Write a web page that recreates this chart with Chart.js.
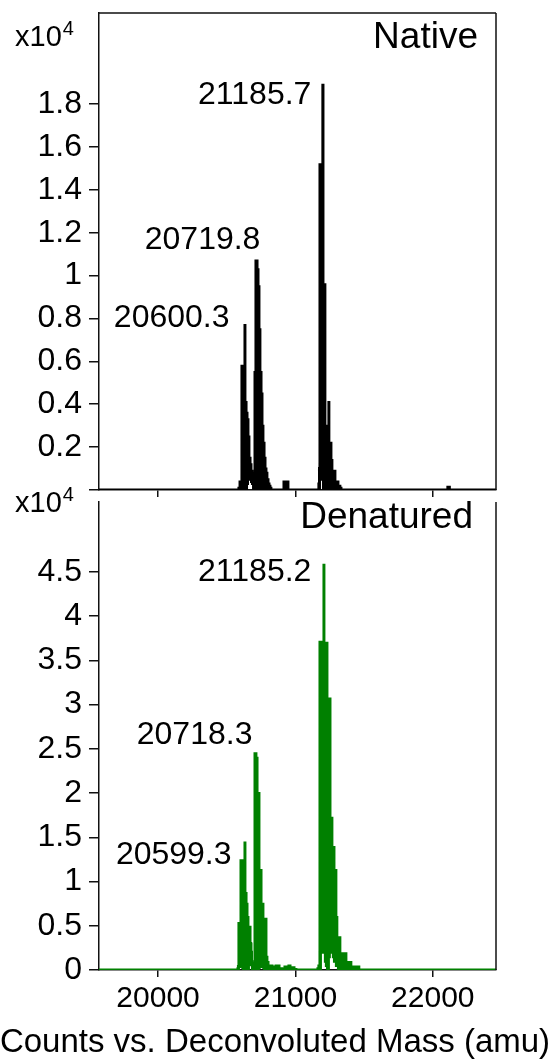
<!DOCTYPE html>
<html>
<head>
<meta charset="utf-8">
<script src="https://cdn.jsdelivr.net/npm/chart.js@4.4.0/dist/chart.umd.min.js"></script>
<style>
  html, body { margin: 0; padding: 0; background: #fff; }
  body { width: 553px; height: 1063px; position: relative; overflow: hidden; }
  canvas { position: absolute; left: 0; }
  #native { top: 0; }
  #denatured { top: 480px; }
</style>
</head>
<body>
<canvas id="native" width="553" height="500"></canvas>
<canvas id="denatured" width="553" height="583"></canvas>
<script>
// axis ranges and ticks (counts in units of 1e4)
const massMin = 19570, massMax = 22460;
const massTicks = [20000, 21000, 22000];
const massTickLabels = ['20000', '21000', '22000'];

const nativeTicks = [0, 0.2, 0.4, 0.6, 0.8, 1, 1.2, 1.4, 1.6, 1.8];
const nativeTickLabels = ['', '0.2', '0.4', '0.6', '0.8', '1', '1.2', '1.4', '1.6', '1.8'];
const denaturedTicks = [0, 0.5, 1, 1.5, 2, 2.5, 3, 3.5, 4, 4.5];
const denaturedTickLabels = ['0', '0.5', '1', '1.5', '2', '2.5', '3', '3.5', '4', '4.5'];

// Native spectrum: upper envelope and lower edge of the dense trace
const nativeMass = [19570,
  20578, 20585, 20593, 20600, 20607, 20615, 20622, 20629, 20636, 20644,
  20651, 20658, 20665, 20673, 20680, 20687, 20695, 20702, 20709, 20716,
  20724, 20731, 20738, 20745, 20753, 20760, 20767, 20775, 20782, 20789,
  20796, 20804, 20811, 20818, 20825,
  20905, 20913, 20927, 20935, 20949,
  21160, 21167, 21175, 21182, 21189, 21196, 21204, 21211, 21218, 21225,
  21233, 21240, 21247, 21255, 21262, 21269, 21276, 21284, 21291, 21298,
  21305, 21313, 21320, 21327, 21335,
  22100, 22106, 22112, 22118, 22124, 22460];
const nativeUpper = [0,
  0, 0.01, 0.04, 0.04, 0.58, 0.58, 0.58, 0.77, 0.41, 0.36,
  0.33, 0.25, 0.15, 0.12, 0.09, 0.08, 0.08, 0.55, 1.07, 1.07,
  1.03, 0.95, 0.75, 0.55, 0.45, 0.30, 0.22, 0.15, 0.10, 0.08,
  0.05, 0.03, 0.02, 0.01, 0,
  0, 0.04, 0.02, 0.04, 0,
  0, 0.03, 1.52, 1.52, 1.52, 1.89, 0.96, 0.96, 0.30, 0.30,
  0.30, 0.41, 0.22, 0.22, 0.14, 0.09, 0.09, 0.09, 0.04, 0.04,
  0.04, 0.02, 0.02, 0.01, 0,
  0, 0.015, 0, 0.015, 0, 0];
const nativeLower = [0,
  0, 0, 0, 0, 0.03, 0.05, 0.02, 0, 0, 0.03,
  0.06, 0.08, 0.07, 0.05, 0.04, 0.03, 0, 0, 0, 0,
  0, 0, 0, 0.03, 0.04, 0.03, 0, 0, 0, 0,
  0, 0, 0, 0, 0,
  0, 0, 0, 0, 0,
  0, 0, 0.10, 0.12, 0.10, 0.05, 0, 0, 0, 0,
  0, 0, 0, 0, 0.02, 0.02, 0.02, 0, 0, 0,
  0, 0, 0, 0, 0,
  0, 0, 0, 0, 0, 0];

// Denatured spectrum
const denaturedMass = [19570,
  20578, 20585, 20593, 20600, 20607, 20615, 20622, 20629, 20636, 20644,
  20651, 20658, 20665, 20673, 20680, 20687, 20695, 20702, 20709, 20716,
  20724, 20731, 20738, 20745, 20753, 20760, 20767, 20775, 20782, 20789,
  20796, 20804, 20811,
  20833, 20855, 20884, 20905, 20920, 20935, 20949, 20964, 20978, 20993, 21007,
  21160, 21167, 21175, 21182, 21189, 21196, 21204, 21211, 21218, 21225,
  21233, 21240, 21247, 21255, 21262, 21269, 21276, 21284, 21291, 21298,
  21305, 21313, 21320, 21327, 21335, 21371, 21407, 21465, 22460];
const denaturedUpper = [0,
  0.02, 0.53, 0.53, 1.24, 1.24, 1.24, 1.24, 1.44, 0.87, 0.75,
  0.60, 0.49, 0.49, 0.30, 0.10, 0.08, 0.07, 2.45, 2.45, 2.40,
  2.00, 2.00, 1.13, 1.13, 0.75, 0.75, 0.58, 0.58, 0.58, 0.15,
  0.09, 0.05, 0.05,
  0.04, 0.05, 0.02, 0.01, 0.04, 0.03, 0.05, 0.02, 0.03, 0.01, 0,
  0.02, 0.05, 3.71, 3.71, 3.71, 3.71, 4.58, 3.70, 3.70, 3.70,
  2.75, 2.75, 3.07, 1.72, 1.72, 1.39, 1.39, 1.13, 1.13, 0.60,
  0.37, 0.37, 0.37, 0.19, 0.19, 0.09, 0.04, 0, 0];
const denaturedLower = [0,
  0, 0.04, 0.05, 0.08, 0.06, 0.03, 0, 0, 0, 0,
  0, 0.10, 0.30, 0.20, 0.06, 0, 0, 0, 0, 0,
  0, 0.03, 0.05, 0.06, 0.05, 0.04, 0.03, 0, 0, 0,
  0, 0, 0,
  0, 0, 0, 0, 0, 0, 0, 0, 0, 0, 0,
  0, 0, 0, 0.20, 0.37, 0.37, 0.30, 0.20, 0.10, 0.05,
  0, 0.15, 0.20, 0.20, 0.20, 0.20, 0.15, 0.10, 0.10, 0.05,
  0.05, 0, 0, 0, 0, 0, 0, 0, 0];

// peak annotations: text, anchor mass (right edge of text), anchor counts (text middle)
const nativePeakText = ['21185.7', '20719.8', '20600.3'];
const nativePeakMass = [21116, 20745, 20520];
const nativePeakCounts = [1.842, 1.166, 0.802];
const denaturedPeakText = ['21185.2', '20718.3', '20599.3'];
const denaturedPeakMass = [21116, 20687, 20535];
const denaturedPeakCounts = [4.50, 2.657, 1.30];

const FONT = "'Liberation Sans', Arial, Helvetica, sans-serif";

function zip(xs, ys) {
  return xs.map((x, i) => ({ x: x, y: ys[i] }));
}

// frame lines, titles, exponent and peak labels
const panelPlugin = {
  id: 'panel',
  afterDatasetsDraw(chart, args, opts) {
    const ctx = chart.ctx, a = chart.chartArea;
    const xs = chart.scales.x, ys = chart.scales.y;
    ctx.save();
    ctx.strokeStyle = '#111';
    ctx.lineWidth = 1.5;
    ctx.beginPath();
    if (opts.topLine) {
      ctx.moveTo(a.left, a.top);
      ctx.lineTo(a.right, a.top);
    }
    ctx.moveTo(a.right, a.top);
    ctx.lineTo(a.right, a.bottom);
    ctx.stroke();

    ctx.fillStyle = '#000';
    ctx.textBaseline = 'alphabetic';
    // panel title
    ctx.font = '37px ' + FONT;
    ctx.textAlign = 'right';
    ctx.fillText(opts.title, opts.titleX, opts.titleY);
    // x10^4
    ctx.textAlign = 'left';
    ctx.font = '29px ' + FONT;
    ctx.fillText('x10', opts.expX, opts.expY);
    const w = ctx.measureText('x10').width;
    ctx.font = '20px ' + FONT;
    ctx.fillText('4', opts.expX + w + 1, opts.expY - 11);
    // peak labels
    ctx.font = '32px ' + FONT;
    ctx.textAlign = 'right';
    ctx.textBaseline = 'middle';
    opts.peakText.forEach((t, i) => {
      ctx.fillText(t, xs.getPixelForValue(opts.peakMass[i]), ys.getPixelForValue(opts.peakCounts[i]));
    });
    // axis title
    if (opts.axisTitle) {
      ctx.font = '33px ' + FONT;
      ctx.textAlign = 'center';
      ctx.textBaseline = 'alphabetic';
      ctx.fillText(opts.axisTitle, opts.axisTitleX, opts.axisTitleY);
    }
    ctx.restore();
  }
};

function makeChart(id, cfg) {
  return new Chart(document.getElementById(id), {
    type: 'line',
    data: {
      datasets: [{
        data: zip(cfg.mass, cfg.upper),
        borderColor: cfg.color,
        backgroundColor: cfg.color,
        borderWidth: 2,
        pointRadius: 0,
        stepped: true,
        fill: '+1'
      }, {
        data: zip(cfg.mass, cfg.lower),
        borderColor: cfg.color,
        borderWidth: 3,
        pointRadius: 0,
        stepped: true,
        fill: false
      }]
    },
    options: {
      responsive: false,
      animation: false,
      events: [],
      layout: { padding: { top: cfg.padTop, right: 57, left: 0, bottom: 0 } },
      plugins: {
        legend: { display: false },
        tooltip: { enabled: false },
        panel: cfg.panel
      },
      scales: {
        x: {
          type: 'linear',
          min: massMin,
          max: massMax,
          afterBuildTicks: s => { s.ticks = massTicks.map(v => ({ value: v })); },
          afterFit: s => { s.height = cfg.xHeight; s.paddingLeft = 0; s.paddingRight = 0; },
          grid: { drawOnChartArea: false, tickLength: 7, color: '#111', lineWidth: 1.5 },
          border: { color: '#111', width: 1.5 },
          ticks: {
            display: cfg.showMassLabels,
            padding: 4,
            color: '#000',
            maxRotation: 0,
            font: { family: FONT, size: 30 },
            callback: (v, i) => massTickLabels[i]
          }
        },
        y: {
          type: 'linear',
          min: 0,
          max: cfg.yMax,
          afterBuildTicks: s => { s.ticks = cfg.ticks.map(v => ({ value: v })); },
          afterFit: s => { s.width = 99; s.paddingTop = 0; s.paddingBottom = 0; },
          grid: { drawOnChartArea: false, tickLength: 10, color: '#111', lineWidth: 1.5 },
          border: { color: '#111', width: 1.5 },
          ticks: {
            padding: 7,
            color: '#000',
            font: { family: FONT, size: 32 },
            callback: (v, i) => cfg.tickLabels[i]
          }
        }
      }
    },
    plugins: [panelPlugin]
  });
}

makeChart('native', {
  mass: nativeMass, upper: nativeUpper, lower: nativeLower, color: '#000',
  padTop: 13, xHeight: 10, showMassLabels: false,
  yMax: 2.225, ticks: nativeTicks, tickLabels: nativeTickLabels,
  panel: {
    topLine: true, title: 'Native', titleX: 478, titleY: 48,
    expX: 15, expY: 46,
    peakText: nativePeakText, peakMass: nativePeakMass, peakCounts: nativePeakCounts
  }
});

makeChart('denatured', {
  mass: denaturedMass, upper: denaturedUpper, lower: denaturedLower, color: '#008000',
  padTop: 22, xHeight: 93, showMassLabels: true,
  yMax: 5.29, ticks: denaturedTicks, tickLabels: denaturedTickLabels,
  panel: {
    topLine: false, title: 'Denatured', titleX: 473, titleY: 48,
    expX: 15, expY: 32,
    peakText: denaturedPeakText, peakMass: denaturedPeakMass, peakCounts: denaturedPeakCounts,
    axisTitle: 'Counts vs. Deconvoluted Mass (amu)', axisTitleX: 275, axisTitleY: 572
  }
});
</script>
</body>
</html>
